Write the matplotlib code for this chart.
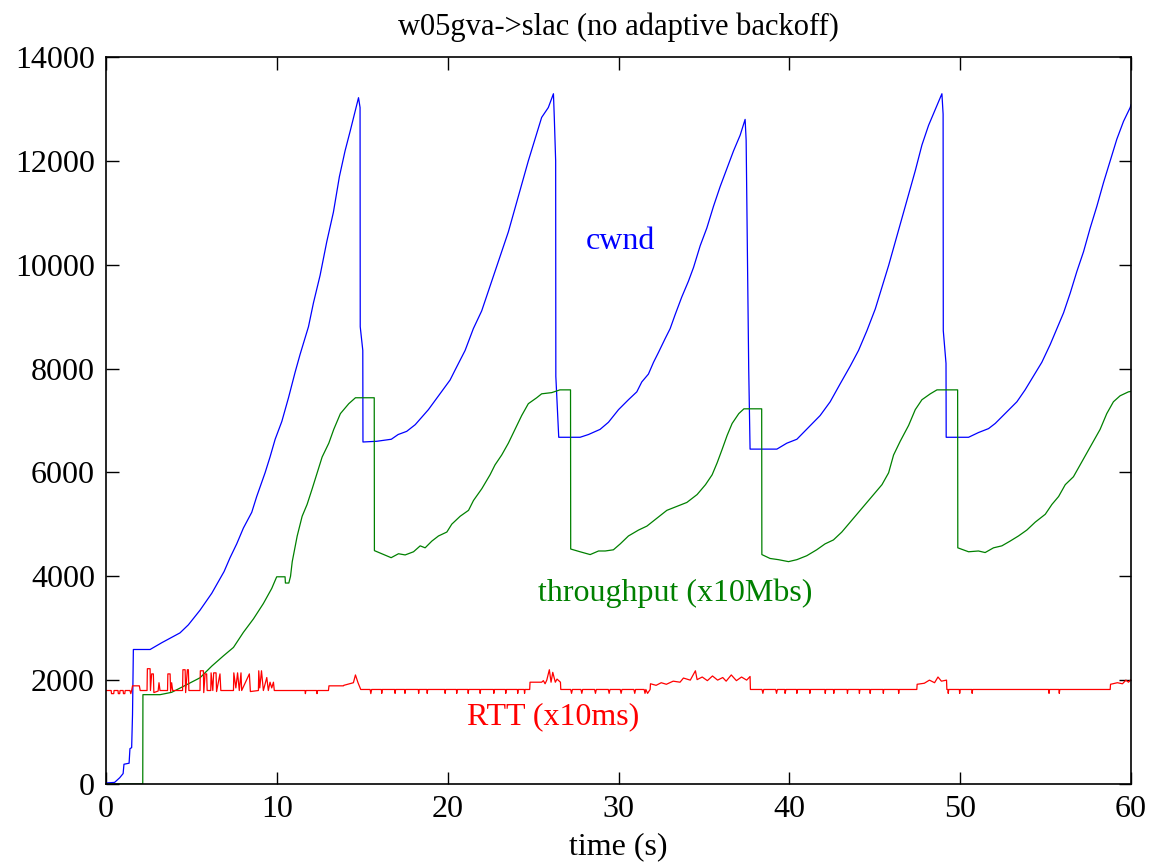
import matplotlib
matplotlib.use("Agg")
import matplotlib.pyplot as plt

# cwnd (time s, value)
cwnd_t = [0, 0.5, 0.8, 1.0, 1.05, 1.35, 1.4, 1.5, 1.55, 1.6, 2.58, 3.26, 4.33, 4.82, 5.5,
          6.19, 6.58, 6.91, 7.26, 7.65, 8.04, 8.53, 8.82, 9.31, 9.6, 9.9, 10.29, 10.68,
          11.07, 11.36, 11.85, 12.14, 12.53, 12.92, 13.31, 13.66, 13.99, 14.29, 14.58,
          14.78, 14.87, 14.88, 15.03, 15.04,
          15.85, 16.7, 17.1, 17.6, 18.1, 18.87, 19.46, 20.14, 20.43, 21.02, 21.5, 21.99,
          22.38, 22.77, 23.16, 23.55, 23.94, 24.33, 24.72, 25.11, 25.5, 25.89, 26.19,
          26.24, 26.32, 26.33, 26.5,
          27.75, 28.24, 28.92, 29.41, 30.0, 30.58, 31.07, 31.36, 31.75, 32.05, 32.34,
          32.73, 33.02, 33.31, 33.7, 34.09, 34.39, 34.78, 35.17, 35.56, 35.95, 36.34,
          36.73, 37.12, 37.41, 37.47, 37.62, 37.7,
          39.27, 39.85, 40.44, 41.12, 41.8, 42.39, 42.97, 43.56, 44.05, 44.54, 45.03,
          45.42, 45.81, 46.2, 46.59, 46.98, 47.37, 47.76, 48.15, 48.54, 48.93,
          49.0, 49.01, 49.17, 49.18,
          50.49, 51.07, 51.66, 52.05, 52.63, 53.32, 53.8, 54.29, 54.78, 55.27, 55.66,
          56.05, 56.44, 56.83, 57.22, 57.61, 58.0, 58.39, 58.78, 59.17, 59.56, 59.95, 60]
cwnd_v = [20, 30, 120, 200, 380, 400, 680, 700, 1330, 2590, 2590, 2720, 2910, 3065, 3346,
          3673, 3901, 4091, 4358, 4624, 4928, 5232, 5536, 5993, 6297, 6639, 6981, 7437,
          7932, 8274, 8806, 9263, 9795, 10441, 11012, 11696, 12190, 12571, 12951,
          13217, 13027, 8806, 8350, 6586,
          6600, 6639, 6730, 6791, 6920, 7209, 7475, 7780, 7970, 8350, 8768, 9111,
          9491, 9871, 10251, 10632, 11088, 11544, 12000, 12419, 12837, 13027, 13293,
          12837, 12000, 7850, 6677,
          6677, 6730, 6829, 6966, 7209, 7400, 7552, 7742, 7894, 8122, 8312,
          8578, 8768, 9035, 9377, 9681, 9947, 10366, 10708, 11126, 11506, 11848,
          12191, 12495, 12799, 12400, 8000, 6449,
          6449, 6563, 6639, 6867, 7095, 7361, 7704, 8046, 8350, 8730, 9149,
          9567, 9985, 10441, 10898, 11354, 11810, 12305, 12685, 12989, 13293,
          12900, 8730, 8100, 6677,
          6677, 6768, 6844, 6943, 7133, 7361, 7590, 7856, 8122, 8464, 8768,
          9073, 9453, 9871, 10251, 10708, 11126, 11582, 12000, 12419, 12761, 13027, 13080]

# throughput (x10Mbs)
thr_t = [0, 2.15, 2.16, 3.16, 3.84, 4.53, 5.5, 6.19, 6.87, 7.46, 8.04, 8.63, 9.21, 9.7,
         9.99, 10.48, 10.5, 10.7, 10.8, 10.9, 11.19, 11.48, 11.77, 12.07, 12.36, 12.65,
         13.04, 13.33, 13.72, 14.21, 14.6, 15.70, 15.71,
         16.14, 16.69, 17.12, 17.51, 18.0, 18.39, 18.68, 19.07, 19.46, 19.95, 20.24,
         20.73, 21.22, 21.51, 22.0, 22.48, 22.77, 23.16, 23.55, 23.94, 24.33, 24.72,
         25.21, 25.5, 26.09, 26.57, 27.19, 27.2,
         27.75, 28.34, 28.83, 29.22, 29.7, 30.1, 30.58, 31.17, 31.66, 32.24, 32.83,
         33.42, 34.0, 34.6, 35.09, 35.48, 35.77, 36.07, 36.36, 36.65, 37.04, 37.34,
         38.38, 38.39,
         38.87, 39.36, 39.95, 40.44, 41.02, 41.6, 42.09, 42.58, 43.07, 43.56, 44.05,
         44.44, 44.93, 45.42, 45.81, 46.1, 46.49, 46.98, 47.37, 47.76, 48.25, 48.64,
         49.85, 49.86,
         50.49, 51.07, 51.46, 51.95, 52.44, 52.92, 53.41, 53.9, 54.39, 54.98, 55.37,
         55.76, 56.15, 56.63, 57.02, 57.41, 57.8, 58.19, 58.58, 58.97, 59.36, 59.85, 60]
thr_v = [0, 0, 1720, 1720, 1765, 1880, 2045, 2270, 2467, 2630, 2920, 3180, 3475, 3766,
         3990, 3990, 3870, 3870, 4000, 4282, 4776, 5156, 5384, 5688, 5993, 6297,
         6563, 6829, 7133, 7324, 7438, 7438, 4494,
         4434, 4358, 4434, 4411, 4472, 4586, 4548, 4677, 4776, 4852, 5004,
         5156, 5270, 5460, 5688, 5955, 6145, 6335, 6563, 6829, 7095, 7324,
         7438, 7514, 7537, 7590, 7590, 4525,
         4472, 4418, 4487, 4487, 4510, 4624, 4776, 4890, 4966, 5118, 5270,
         5346, 5422, 5574, 5764, 5955, 6183, 6449, 6715, 6943, 7133, 7225,
         7225, 4418,
         4343, 4320, 4282, 4320, 4396, 4510, 4624, 4700, 4852, 5042, 5232,
         5384, 5574, 5764, 5993, 6335, 6601, 6905, 7209, 7400, 7514, 7590,
         7590, 4548,
         4472, 4487, 4457, 4548, 4586, 4677, 4776, 4890, 5042, 5194, 5384,
         5536, 5764, 5917, 6145, 6373, 6601, 6829, 7133, 7361, 7476, 7552, 7560]

# RTT (x10ms)
rtt_t = [0, 0.3, 0.32, 0.45, 0.47, 0.7, 0.72, 0.8, 0.82, 1.0, 1.02, 1.1, 1.12, 1.4, 1.45,
         1.5, 1.55, 1.95, 2.0, 2.4, 2.42, 2.58, 2.6, 2.67, 2.77, 2.8, 3.05, 3.1, 3.16,
         3.6, 3.62, 3.75, 3.78, 3.84, 3.9, 4.48, 4.5, 4.63, 4.66, 4.76, 4.82, 4.85,
         5.5, 5.52, 5.7, 5.72, 5.8, 5.89, 5.92, 6.13, 6.15, 6.25, 6.3, 6.44, 6.47,
         6.67, 6.72, 7.46, 7.48, 7.6, 7.7, 7.8, 7.9, 7.94, 8.39, 8.45, 8.92, 8.94, 9.0,
         9.1, 9.21, 9.41, 9.5, 9.6, 9.7, 9.8, 9.85, 11.65, 11.67, 11.7, 12.33, 12.35,
         12.38, 13.02, 13.05, 13.9, 13.92, 14.48, 14.6, 14.75, 14.91, 15.46, 15.5, 15.55,
         16.12, 16.14, 16.17, 16.9, 16.92, 16.95, 17.48, 17.5, 17.53, 18.28, 18.3, 18.33,
         18.78, 18.8, 18.83, 19.83, 19.85, 19.88, 20.51, 20.53, 20.56, 21.18, 21.2, 21.23,
         21.88, 21.9, 21.93, 22.68, 22.7, 22.73, 23.38, 23.4, 23.43, 24.08, 24.1, 24.13,
         24.48, 24.5, 24.53, 24.8, 24.82, 25.5, 25.6, 25.7, 25.8, 25.95, 26.05, 26.15,
         26.3, 26.4, 26.6, 26.62,
         27.2, 27.25, 27.3, 27.8, 27.85, 27.9, 28.6, 28.65, 28.7, 29.4, 29.45, 29.5,
         30.1, 30.15, 30.2, 30.9, 30.95, 31.0, 31.5, 31.55, 31.6, 31.7, 31.85, 31.87,
         32.2, 32.5, 32.8, 33.2, 33.6, 33.8, 34.2, 34.5, 34.6, 34.9, 35.2, 35.5, 35.8,
         36.1, 36.3, 36.6, 36.9, 37.2, 37.5, 37.7, 37.72,
         38.4, 38.45, 38.5, 39.2, 39.25, 39.3, 39.73, 39.75, 39.8, 40.42, 40.44, 40.47,
         41.18, 41.2, 41.23, 42.08, 42.1, 42.13, 42.58, 42.6, 42.63, 43.38, 43.4, 43.43,
         44.08, 44.1, 44.13, 44.71, 44.73, 44.76, 45.48, 45.5, 45.53, 46.38, 46.4, 46.43,
         47.46, 47.48, 47.9, 48.2, 48.5, 48.7, 48.9, 49.2, 49.22, 49.28, 49.3, 49.33,
         49.95, 49.97, 50.0, 50.68, 50.7, 50.73, 55.18, 55.2, 55.23, 55.78, 55.8, 55.83,
         58.78, 58.8, 59.2, 59.5, 59.7, 59.85, 60]
rtt_v = [1800, 1800, 1740, 1740, 1800, 1800, 1740, 1740, 1800, 1800, 1740, 1740, 1800, 1800, 1740,
         1800, 1890, 1890, 1800, 1800, 2220, 2220, 1800, 2120, 2120, 1760, 1790, 1950, 1800,
         1800, 2120, 2120, 1780, 1950, 1800, 1800, 2200, 2200, 1760, 2200, 2200, 1800,
         1800, 2180, 2180, 1760, 2120, 2120, 1800, 1800, 2140, 1800, 2140, 2140, 1780,
         2120, 1800, 1800, 2140, 1850, 2140, 1800, 2140, 1800, 2120, 1780, 1800, 2180, 1850,
         2180, 1800, 2050, 1800, 1960, 1850, 1960, 1800, 1800, 1740, 1800, 1800, 1740,
         1800, 1800, 1890, 1890, 1900, 1950, 2100, 1950, 1820, 1820, 1740, 1820,
         1820, 1745, 1820, 1820, 1745, 1820, 1820, 1745, 1820, 1820, 1745, 1820,
         1820, 1745, 1820, 1820, 1745, 1820, 1820, 1745, 1820, 1820, 1745, 1820,
         1820, 1745, 1820, 1820, 1745, 1820, 1820, 1745, 1820, 1820, 1745, 1820,
         1820, 1745, 1820, 1820, 1960, 1960, 1990, 1930, 2000, 2200, 1960, 2150,
         1960, 2020, 1960, 1820,
         1820, 1745, 1820, 1820, 1745, 1820, 1820, 1745, 1820, 1820, 1745, 1820,
         1820, 1745, 1820, 1820, 1745, 1820, 1820, 1745, 1820, 1745, 1820, 1930,
         1900, 1950, 1920, 1980, 1960, 2040, 2000, 2180, 2010, 2060, 1990, 2080, 2000,
         2050, 1980, 2100, 1990, 2060, 2000, 2070, 1820,
         1820, 1745, 1820, 1820, 1745, 1820, 1820, 1745, 1820, 1820, 1745, 1820,
         1820, 1745, 1820, 1820, 1745, 1820, 1820, 1745, 1820, 1820, 1745, 1820,
         1820, 1745, 1820, 1820, 1745, 1820, 1820, 1745, 1820, 1820, 1745, 1820,
         1820, 1920, 1940, 2000, 1950, 2060, 1980, 2000, 1820, 1820, 1745, 1820,
         1820, 1745, 1820, 1820, 1745, 1820, 1820, 1745, 1820, 1820, 1745, 1820,
         1820, 1920, 1950, 1930, 2000, 1960, 2010]

plt.rcParams['font.family'] = ['Liberation Serif', 'DejaVu Serif']

fig = plt.figure(figsize=(11.5, 8.68), dpi=100)
ax = fig.add_axes([0.0922, 0.0968, 0.8913, 0.8375])

ax.plot(cwnd_t, cwnd_v, color='#0000ff', lw=0.9)
ax.plot(thr_t, thr_v, color='#008000', lw=0.9)
ax.plot(rtt_t, rtt_v, color='#ff0000', lw=0.9)

ax.text(30.1, 10450, 'cwnd', color='#0000ff', fontsize=23, ha='center', va='center')
ax.text(33.3, 3680, 'throughput (x10Mbs)', color='#008000', fontsize=23, ha='center', va='center')
ax.text(26.2, 1290, 'RTT (x10ms)', color='#ff0000', fontsize=23, ha='center', va='center')

ax.set_xlim(0, 60)
ax.set_ylim(0, 14000)
ax.set_xticks(range(0, 61, 10))
ax.set_yticks(range(0, 14001, 2000))
ax.tick_params(direction='in', top=True, right=True, length=9, width=1, labelsize=23, pad=8)
for s in ax.spines.values():
    s.set_linewidth(1.2)
ax.set_title('w05gva->slac (no adaptive backoff)', fontsize=22, pad=16)
ax.set_xlabel('time (s)', fontsize=23, labelpad=6)

fig.savefig('out.png', dpi=100)
